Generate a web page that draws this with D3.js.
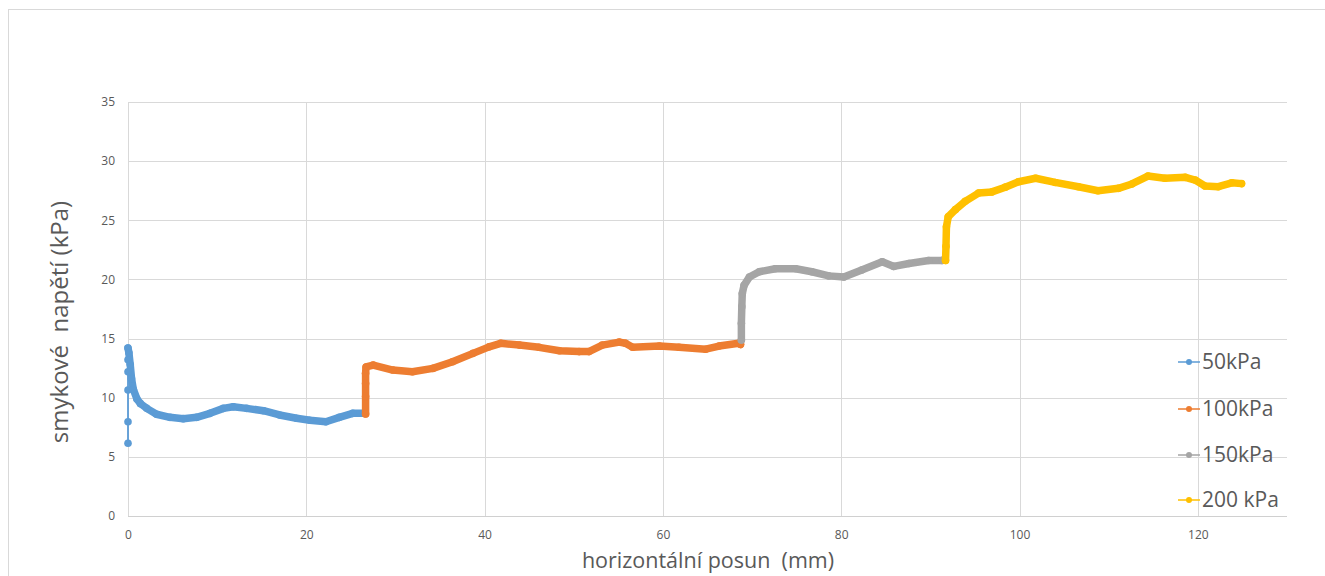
<!DOCTYPE html>
<html>
  <head>
  	<title>Smykove napeti</title>
  	<script src="https://d3js.org/d3.v7.min.js"></script>
  	<style>
  		body { margin: 0; background: #fff; }
  		text { font-family: "Open Sans", sans-serif; fill: #595959; white-space: pre; }
  	</style>
  </head>
  <body>
  	<div id="chartDiv"></div>
  	<script>
  		// values
  		var seriesNames = ["50kPa", "100kPa", "150kPa", "200 kPa"];
  		var seriesColors = ["#5b9bd5", "#ed7d31", "#a5a5a5", "#ffc000"];

  		var x50 = [0, 0, 0, 0, 0, 0, 0.1, 0.25, 0.4, 0.6, 1.0, 1.4, 2.1, 3.2, 4.7, 6.2, 7.7, 9.2, 10.7, 11.8, 13.3, 15.2, 17.0, 18.9, 20.4, 22.2, 23.7, 25.2, 26.5];
  		var y50 = [6.15, 7.97, 10.65, 12.2, 13.2, 14.2, 13.8, 12.8, 11.6, 10.7, 9.9, 9.5, 9.1, 8.6, 8.34, 8.23, 8.34, 8.68, 9.1, 9.24, 9.1, 8.9, 8.54, 8.26, 8.1, 7.97, 8.34, 8.68, 8.68];

  		var x100 = [26.65, 26.65, 26.65, 26.65, 26.7, 27.5, 29.7, 31.9, 34.2, 36.4, 38.7, 40.5, 41.8, 43.9, 46.1, 48.4, 50.6, 51.7, 53.2, 55.1, 55.8, 56.6, 59.6, 61.8, 64.8, 66.3, 68.5, 68.7];
  		var y100 = [8.62, 10.1, 11.2, 12.06, 12.6, 12.76, 12.34, 12.2, 12.48, 13.04, 13.75, 14.3, 14.6, 14.45, 14.26, 13.97, 13.9, 13.9, 14.45, 14.7, 14.6, 14.26, 14.37, 14.26, 14.1, 14.37, 14.6, 14.5];

  		var x150 = [68.8, 68.8, 68.85, 68.9, 69.1, 69.7, 70.8, 72.6, 74.9, 76.7, 78.6, 80.3, 82.3, 84.6, 85.9, 87.6, 89.8, 91.3, 91.6];
  		var y150 = [14.88, 16.3, 17.7, 18.8, 19.5, 20.2, 20.65, 20.9, 20.9, 20.65, 20.3, 20.2, 20.8, 21.5, 21.1, 21.35, 21.6, 21.6, 21.7];

  		var x200 = [91.7, 91.75, 91.8, 92.0, 92.8, 93.9, 95.4, 96.9, 98.4, 99.9, 101.8, 104.0, 106.6, 108.8, 111.1, 112.6, 114.4, 116.3, 118.6, 119.7, 120.8, 122.3, 123.8, 124.9];
  		var y200 = [21.6, 22.8, 24.45, 25.3, 25.9, 26.6, 27.3, 27.4, 27.8, 28.26, 28.55, 28.2, 27.84, 27.5, 27.7, 28.07, 28.74, 28.55, 28.63, 28.4, 27.9, 27.84, 28.17, 28.1];

  		var xTicks = [0, 20, 40, 60, 80, 100, 120];
  		var yTicks = [0, 5, 10, 15, 20, 25, 30, 35];

  		var allX = [x50, x100, x150, x200];
  		var allY = [y50, y100, y150, y200];
  		// how many leading points are single markers on a thin line (the jump at x = 0)
  		var thinLead = [6, 0, 0, 0];

  		var W = 1325, H = 576;
  		var svg = d3.select('#chartDiv')
  			.append('svg')
  			.attr('width', W)
  			.attr('height', H);

  		// outer chart frame
  		svg.append('rect')
  			.attr('x', 8.5).attr('y', 9.5)
  			.attr('width', W).attr('height', H)
  			.attr('fill', '#fff')
  			.attr('stroke', '#d9d9d9');

  		var x = d3.scaleLinear().domain([0, 130]).range([128, 1287]);
  		var y = d3.scaleLinear().domain([0, 35]).range([516, 102]);

  		// horizontal gridlines
  		svg.append('g')
  			.selectAll('line')
  			.data(yTicks.slice(1))
  			.enter().append('line')
  			.attr('x1', x(0)).attr('x2', x(130))
  			.attr('y1', function (d) { return Math.round(y(d)) + 0.5; })
  			.attr('y2', function (d) { return Math.round(y(d)) + 0.5; })
  			.attr('stroke', '#d9d9d9');

  		// vertical gridlines
  		svg.append('g')
  			.selectAll('line')
  			.data(xTicks)
  			.enter().append('line')
  			.attr('x1', function (d) { return Math.round(x(d)) + 0.5; })
  			.attr('x2', function (d) { return Math.round(x(d)) + 0.5; })
  			.attr('y1', y(35)).attr('y2', y(0))
  			.attr('stroke', '#d9d9d9');

  		// bottom axis line
  		svg.append('line')
  			.attr('x1', x(0)).attr('x2', x(130))
  			.attr('y1', Math.round(y(0)) + 0.5).attr('y2', Math.round(y(0)) + 0.5)
  			.attr('stroke', '#d0d0d0');

  		// x axis
  		var xAxis = d3.axisBottom(x)
  			.tickValues(xTicks)
  			.tickSize(0)
  			.tickPadding(14);
  		svg.append('g')
  			.attr('transform', 'translate(0,' + y(0) + ')')
  			.call(xAxis)
  			.call(function (g) { g.select('.domain').remove(); })
  			.selectAll('text')
  			.style('font-size', '12px')
  			.style('fill', '#595959');

  		// y axis
  		var yAxis = d3.axisLeft(y)
  			.tickValues(yTicks)
  			.tickSize(0)
  			.tickPadding(13);
  		svg.append('g')
  			.attr('transform', 'translate(' + x(0) + ',0)')
  			.call(yAxis)
  			.call(function (g) { g.select('.domain').remove(); })
  			.selectAll('text')
  			.style('font-size', '12px')
  			.style('fill', '#595959');

  		// axis titles
  		svg.append('text')
  			.attr('x', 708)
  			.attr('y', 568)
  			.style('text-anchor', 'middle')
  			.style('font-size', '21.5px')
  			.text('horizontální posun  (mm)');

  		svg.append('text')
  			.attr('transform', 'translate(68,322) rotate(-90)')
  			.style('text-anchor', 'middle')
  			.style('font-size', '24px')
  			.text('smykové  napětí (kPa)');

  		// series
  		var line = d3.line()
  			.x(function (d) { return x(d[0]); })
  			.y(function (d) { return y(d[1]); });

  		for (var s = 0; s < 4; s++) {
  			var pts = allX[s].map(function (v, i) { return [v, allY[s][i]]; });
  			var n = thinLead[s];
  			var g = svg.append('g');
  			if (n > 0) {
  				g.append('path')
  					.datum(pts.slice(0, n + 1))
  					.attr('d', line)
  					.attr('fill', 'none')
  					.attr('stroke', seriesColors[s])
  					.attr('stroke-width', 1.8);
  			}
  			g.append('path')
  				.datum(pts.slice(Math.max(0, n - 1)))
  				.attr('d', line)
  				.attr('fill', 'none')
  				.attr('stroke', seriesColors[s])
  				.attr('stroke-width', 7.5)
  				.attr('stroke-linejoin', 'round')
  				.attr('stroke-linecap', 'round');
  			g.selectAll('circle')
  				.data(pts)
  				.enter().append('circle')
  				.attr('cx', function (d) { return x(d[0]); })
  				.attr('cy', function (d) { return y(d[1]); })
  				.attr('r', 3.8)
  				.attr('fill', seriesColors[s]);
  		}

  		// legend
  		var legendY = [362, 409, 455, 500];
  		var legend = svg.append('g');
  		seriesNames.forEach(function (name, i) {
  			var row = legend.append('g')
  				.attr('transform', 'translate(1178,' + legendY[i] + ')');
  			row.append('line')
  				.attr('x1', 0).attr('x2', 22)
  				.attr('stroke', seriesColors[i])
  				.attr('stroke-width', 1.5);
  			row.append('circle')
  				.attr('cx', 11).attr('r', 3)
  				.attr('fill', seriesColors[i]);
  			row.append('text')
  				.attr('x', 24)
  				.attr('dy', '0.35em')
  				.style('font-size', '21px')
  				.text(name);
  		});
  	</script>
  </body>
</html>
